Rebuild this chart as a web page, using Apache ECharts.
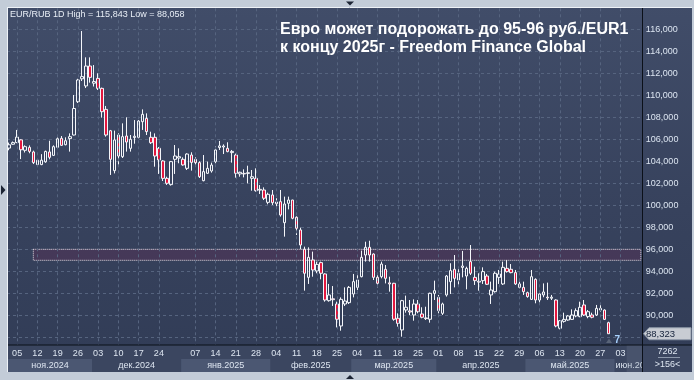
<!DOCTYPE html>
<html><head><meta charset="utf-8">
<script src="https://cdn.jsdelivr.net/npm/echarts@6/dist/echarts.min.js"></script>
<style>
html,body{margin:0;padding:0;background:#c3ccd8;}
#c{width:694px;height:380px;background:linear-gradient(to bottom,#414d69 0%,#37425d 55%,#313c56 100%);}
</style>
</head><body><div id="c"></div>
<script>
const categories = [
'2024-11-01','2024-11-04','2024-11-05','2024-11-06','2024-11-07','2024-11-08','2024-11-11','2024-11-12','2024-11-13','2024-11-14','2024-11-15','2024-11-18','2024-11-19','2024-11-20','2024-11-21','2024-11-22','2024-11-25','2024-11-26','2024-11-27','2024-11-28','2024-11-29',
'2024-12-02','2024-12-03','2024-12-04','2024-12-05','2024-12-06','2024-12-09','2024-12-10','2024-12-11','2024-12-12','2024-12-13','2024-12-16','2024-12-17','2024-12-18','2024-12-19','2024-12-20','2024-12-23','2024-12-24','2024-12-25','2024-12-26','2024-12-27','2024-12-30','2024-12-31',
'2025-01-02','2025-01-03','2025-01-06','2025-01-07','2025-01-08','2025-01-09','2025-01-10','2025-01-13','2025-01-14','2025-01-15','2025-01-16','2025-01-17','2025-01-20','2025-01-21','2025-01-22','2025-01-23','2025-01-24','2025-01-27','2025-01-28','2025-01-29','2025-01-30','2025-01-31',
'2025-02-03','2025-02-04','2025-02-05','2025-02-06','2025-02-07','2025-02-10','2025-02-11','2025-02-12','2025-02-13','2025-02-14','2025-02-17','2025-02-18','2025-02-19','2025-02-20','2025-02-21','2025-02-24','2025-02-25','2025-02-26','2025-02-27','2025-02-28',
'2025-03-03','2025-03-04','2025-03-05','2025-03-06','2025-03-07','2025-03-10','2025-03-11','2025-03-12','2025-03-13','2025-03-14','2025-03-17','2025-03-18','2025-03-19','2025-03-20','2025-03-21','2025-03-24','2025-03-25','2025-03-26','2025-03-27','2025-03-28','2025-03-31',
'2025-04-01','2025-04-02','2025-04-03','2025-04-04','2025-04-07','2025-04-08','2025-04-09','2025-04-10','2025-04-11','2025-04-14','2025-04-15','2025-04-16','2025-04-17','2025-04-18','2025-04-21','2025-04-22','2025-04-23','2025-04-24','2025-04-25','2025-04-28','2025-04-29','2025-04-30',
'2025-05-01','2025-05-02','2025-05-05','2025-05-06','2025-05-07','2025-05-08','2025-05-09','2025-05-12','2025-05-13','2025-05-14','2025-05-15','2025-05-16','2025-05-19','2025-05-20','2025-05-21','2025-05-22','2025-05-23','2025-05-26','2025-05-27','2025-05-28','2025-05-29','2025-05-30',
'2025-06-02','2025-06-03','2025-06-04','2025-06-05','2025-06-06','2025-06-09','2025-06-10'];

const openVals = [105200,105550,105700,105950,105000,105270,104850,103700,103700,103950,104850,104540,105270,106090,105510,106060,106390,109420,111500,110850,112660,
111100,111540,110630,108720,106780,103150,106390,104420,106300,105180,106160,106180,107600,107900,106180,106180,105180,104030,102450,101880,104180,104300,
104180,103360,104570,104180,103880,102240,102910,103120,103970,105250,105300,105180,104790,104570,102850,102900,102900,102450,102450,101450,101390,100270,
100940,100300,100330,98420,100180,100480,98910,97760,96000,93450,95030,94030,94790,93760,91330,91500,91030,89030,91030,91150,
91940,92540,93510,95480,96180,95570,93450,93510,94180,92950,92910,89730,88670,90480,90400,90030,91030,90120,89760,89640,92000,
91630,90180,91850,93060,94180,93210,94350,93570,94880,93450,93100,93150,93570,91850,92150,93450,92850,94270,94180,93880,92850,92540,
92060,91450,93270,91390,91850,91650,91550,91390,88820,89450,89570,89630,89940,89880,90940,89880,90030,90030,90480,90480,89330];

const closeVals = [105500,105700,106200,105050,105330,104900,103880,104100,104100,104900,104360,105330,106050,105450,105870,106240,108800,111390,111700,112660,111630,
111250,110630,108510,106390,104180,105940,104480,106240,105750,106000,106280,107660,108270,106700,105690,104480,104120,102450,102000,103970,104480,104420,
103670,104660,103900,103880,102600,103060,103360,103660,105030,105400,105390,104880,104900,102910,103000,102850,102960,102600,101330,101380,100640,101000,
100240,100150,99120,100120,100480,98820,97910,96390,93820,95270,94120,94630,93820,91390,91850,91420,89640,91450,91300,92540,
93060,93210,95270,96180,95480,93450,92910,94660,93360,92850,89640,89270,91330,90730,90300,91030,90330,89820,89700,92000,92240,
90420,91030,93570,94060,93360,93820,94480,94270,93820,93150,93020,93970,92820,92300,93820,93750,94360,93970,93880,92850,92540,92150,
91700,93510,91390,91940,92120,91580,91650,89030,89510,89630,89940,90030,90420,90730,90030,90330,89820,90630,90630,89630,88323];

const lowVals = [105000,105500,105650,104200,104800,104730,103750,103600,103650,103870,104180,104480,105150,105390,105450,104880,106350,109300,111300,110660,111150,
110800,110480,107970,106240,102760,102900,103500,104300,104880,104880,105600,106090,106850,106390,105570,103510,102850,102210,101850,101790,102850,103820,
103600,103210,103150,103640,102480,102180,102850,102970,103820,105030,104660,104820,103880,102510,102600,102540,102000,101330,101240,101030,100480,100090,
100030,99880,98970,97150,99630,98730,97300,96000,92240,92850,93510,93820,93270,91240,91240,90850,88900,88600,90850,91030,
91630,92300,93450,94880,94880,93210,92540,93360,92900,92150,89510,88970,88058,90240,90030,89510,90180,89730,89570,89330,91390,
90180,90030,91700,91940,92540,92600,93450,92360,93660,92760,92240,92850,92760,91030,92060,92850,92760,93880,93820,92760,92450,91850,
91600,91390,91090,91150,91640,91390,91390,88910,88720,89330,89510,89570,89820,89820,89940,89730,89730,89940,90330,89570,88300];

const highVals = [105700,105800,106850,106000,105450,105450,104970,104200,104650,104970,105870,105450,106180,106300,106180,106540,110030,111500,115843,113450,113450,
112750,112000,110700,109030,106850,106790,106550,107450,108000,106390,107750,107750,108720,108360,106690,106540,105300,104100,102600,104030,105480,105180,
104360,104730,104820,104360,104000,104570,103970,103880,105390,105850,105540,105730,105030,104700,103060,103270,103600,103210,103360,101840,101630,101150,
101390,100640,101390,100790,100790,100500,99000,97970,96240,96180,95790,94880,94880,93820,92850,92660,91240,91630,92540,92660,
93760,93660,95880,96690,96780,95630,93660,94880,94570,93510,92950,90180,91400,91790,91390,91450,91390,90730,90780,92060,93150,
91850,91150,93660,94730,95480,94270,95850,94420,96390,94420,93820,94360,93760,93060,93970,94120,94880,95030,94660,94120,93060,93060,
92150,94120,93360,92060,92900,92970,91850,91450,89570,90240,90030,90540,90630,91240,91390,90480,90240,90940,90940,90540,89420];

const tickDays = ['2024-11-05','2024-11-12','2024-11-19','2024-11-26','2024-12-03','2024-12-10','2024-12-17','2024-12-24',
'2025-01-07','2025-01-14','2025-01-21','2025-01-28','2025-02-04','2025-02-11','2025-02-18','2025-02-25',
'2025-03-04','2025-03-11','2025-03-18','2025-03-25','2025-04-01','2025-04-08','2025-04-15','2025-04-22','2025-04-29',
'2025-05-06','2025-05-13','2025-05-20','2025-05-27','2025-06-03'];

const monthKeys = ['2024-11','2024-12','2025-01','2025-02','2025-03','2025-04','2025-05','2025-06'];
const monthNames = ['ноя.2024','дек.2024','янв.2025','фев.2025','мар.2025','апр.2025','май.2025','июн.2025'];

const targetZone = [95000, 96000];
const zoneStart = '2024-11-11';
const titleLines = ['Евро может подорожать до 95-96 руб./EUR1', 'к концу 2025г - Freedom Finance Global'];
const cornerInfo = ['7262', '>156<'];

const fmt = v => String(v).replace(/\B(?=(\d{3})+(?!\d))/g, ',');
const tickSet = new Set(tickDays);
const ohlc = openVals.map((o, i) => [o, closeVals[i], lowVals[i], highVals[i]]);
const FONT = '"Liberation Sans", Arial, sans-serif';
const GRID_COL = '#56647f';

const chart = echarts.init(document.getElementById('c'), null, {renderer: 'canvas'});
chart.setOption({
  animation: false,
  grid: {left: 7, right: 51.15, top: 7.3, bottom: 20.7, containLabel: false},
  xAxis: {
    type: 'category', data: categories, boundaryGap: true, offset: -14.3, z: 20,
    axisLine: {show: false}, axisTick: {show: false}, splitLine: {show: false},
    axisLabel: {interval: (i, v) => tickSet.has(v), formatter: v => v.slice(8),
      color: '#dde5f0', fontSize: 9, fontFamily: FONT, margin: 4}
  },
  yAxis: {
    type: 'value', position: 'right', min: 86000, max: 118000, interval: 2000,
    axisLine: {show: false}, axisTick: {show: false},
    splitLine: {show: true, lineStyle: {color: GRID_COL, type: [3, 3], width: 1}},
    axisLabel: {color: '#dce5f1', fontSize: 9, fontFamily: FONT, margin: 3,
      formatter: v => (v >= 90000 && v <= 116000) ? fmt(v) : ''}
  },
  series: [
    {
      type: 'line', data: [], z: 1, silent: true,
      markLine: {
        silent: true, symbol: ['none', 'none'], label: {show: false},
        lineStyle: {color: GRID_COL, type: [3, 3], width: 1},
        data: tickDays.map(d => ({xAxis: d}))
      },
      markArea: {
        silent: true,
        itemStyle: {color: 'rgba(105,40,82,0.30)', borderColor: '#e6dbe3', borderWidth: 1, borderType: 'dotted'},
        data: [[{xAxis: zoneStart, yAxis: targetZone[1]}, {xAxis: categories[categories.length - 1], yAxis: targetZone[0]}]]
      }
    },
    {
      type: 'candlestick', data: ohlc, barWidth: 3, z: 3,
      itemStyle: {color: 'transparent', color0: '#e3173e', borderColor: '#f4f6fa', borderColor0: '#f4f6fa', borderWidth: 1}
    }
  ]
});

const px = (cat, val) => chart.convertToPixel({gridIndex: 0}, [cat, val]);
const step = px(categories[1], 100000)[0] - px(categories[0], 100000)[0];
const g = [];
const txt = (x, y, text, fill, font, align, z) => ({type: 'text', x, y, z: z || 25, silent: true,
  style: {text, fill, font, align: align || 'left', verticalAlign: 'middle'}});

// bottom axis panel
g.push({type: 'rect', shape: {x: 8, y: 345, width: 684, height: 27}, style: {fill: '#3b4660'}, z: 10, silent: true});
monthKeys.forEach((mk, m) => {
  const idxs = categories.map((c, i) => c.startsWith(mk) ? i : -1).filter(i => i >= 0);
  if (!idxs.length) return;
  let x0 = Math.max(8, px(categories[idxs[0]], 100000)[0] - step / 2);
  let x1 = Math.min(642, px(categories[idxs[idxs.length - 1]], 100000)[0] + step / 2);
  if (m % 2 === 0) g.push({type: 'rect', shape: {x: x0, y: 359, width: x1 - x0, height: 13}, style: {fill: '#4b5772'}, z: 11, silent: true});
  const last = m === monthKeys.length - 1;
  g.push(txt(last ? x0 + 1 : (x0 + x1) / 2, 365.5, monthNames[m], '#dde5f0', '9px ' + FONT, last ? 'left' : 'center', 12));
});
// future shade
const fx = px(categories[153], 100000)[0] - step / 2;
g.push({type: 'rect', shape: {x: fx, y: 345, width: 642 - fx, height: 27}, style: {fill: 'rgba(120,130,150,0.22)'}, z: 21, silent: true});
// right bottom box
g.push({type: 'rect', shape: {x: 643, y: 345.5, width: 49, height: 26.5}, style: {fill: '#3b4660'}, z: 22, silent: true});
g.push(txt(667.5, 352, cornerInfo[0], '#dde5f0', '9px ' + FONT, 'center', 23));
g.push({type: 'line', shape: {x1: 658, y1: 357.5, x2: 680, y2: 357.5}, style: {stroke: '#8c98ab', lineWidth: 1}, z: 23, silent: true});
g.push(txt(667.5, 364.5, cornerInfo[1], '#dde5f0', '9px ' + FONT, 'center', 23));
// black separators
g.push({type: 'line', shape: {x1: 8, y1: 345, x2: 692, y2: 345}, style: {stroke: '#0b1019', lineWidth: 1}, z: 24, silent: true});
g.push({type: 'line', shape: {x1: 642.5, y1: 8, x2: 642.5, y2: 372}, style: {stroke: '#0b1019', lineWidth: 1}, z: 24, silent: true});
// price tag
const lastClose = closeVals[closeVals.length - 1];
const yc = px(categories[0], lastClose)[1];
g.push({type: 'polygon', shape: {points: [[643.5, yc], [649, yc - 6], [691, yc - 6], [691, yc + 6], [649, yc + 6]]},
  style: {fill: '#c8ccd3', stroke: '#8e98a8', lineWidth: 1}, z: 26, silent: true});
g.push(txt(646, yc + 0.5, fmt(lastClose), '#16233b', '9.5px ' + FONT, 'left', 27));
// small marker near last bar
g.push({type: 'polygon', shape: {points: [[606, 343], [609, 338.5], [612, 343]]}, style: {fill: '#596478'}, z: 25, silent: true});
g.push(txt(614.5, 340.5, '7', '#a9d3ff', 'bold 10px ' + FONT, 'left', 25));
// header texts
const hi = Math.max(...highVals), lo = Math.min(...lowVals);
g.push(txt(10, 15, 'EUR/RUB 1D High = ' + fmt(hi) + ' Low = ' + fmt(lo), '#e8eef6', '9px ' + FONT, 'left', 25));
g.push(txt(280, 30, titleLines[0], '#ffffff', 'bold 16px ' + FONT, 'left', 25));
g.push(txt(280, 47.6, titleLines[1], '#ffffff', 'bold 16px ' + FONT, 'left', 25));
// outer frame
const FR = '#c3ccd8';
g.push({type: 'rect', shape: {x: 0, y: 0, width: 694, height: 7}, style: {fill: FR}, z: 30, silent: true});
g.push({type: 'rect', shape: {x: 0, y: 0, width: 7, height: 380}, style: {fill: FR}, z: 30, silent: true});
g.push({type: 'rect', shape: {x: 692, y: 0, width: 2, height: 380}, style: {fill: FR}, z: 30, silent: true});
g.push({type: 'rect', shape: {x: 0, y: 372, width: 694, height: 8}, style: {fill: FR}, z: 30, silent: true});
g.push({type: 'line', shape: {x1: 7, y1: 7.5, x2: 692, y2: 7.5}, style: {stroke: '#eef2f7', lineWidth: 1}, z: 31, silent: true});
g.push({type: 'line', shape: {x1: 7.5, y1: 7, x2: 7.5, y2: 372}, style: {stroke: '#eef2f7', lineWidth: 1}, z: 31, silent: true});
g.push({type: 'polygon', shape: {points: [[346, 1.5], [354, 1.5], [350, 5.5]]}, style: {fill: '#1c2434'}, z: 32, silent: true});
g.push({type: 'polygon', shape: {points: [[346, 379], [354, 379], [350, 375]]}, style: {fill: '#1c2434'}, z: 32, silent: true});
g.push({type: 'polygon', shape: {points: [[1, 185], [1, 195], [5.5, 190]]}, style: {fill: '#1c2434'}, z: 32, silent: true});

chart.setOption({graphic: {elements: g}});
</script>
</body></html>
